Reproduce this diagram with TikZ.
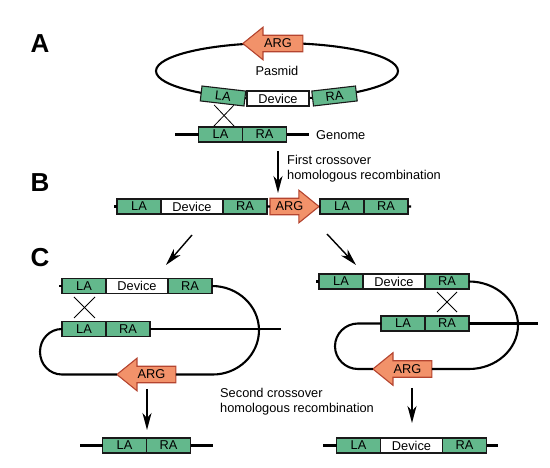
\documentclass[tikz,border=0pt]{standalone}
\usepackage{fontspec}
\setmainfont{Liberation Sans}
\usetikzlibrary{arrows.meta,positioning,shapes.arrows,shapes.geometric}

\definecolor{armgreen}{RGB}{99,184,140}
\definecolor{argfill}{RGB}{242,146,106}
\definecolor{argedge}{RGB}{180,68,47}

\tikzset{
  arm/.style={draw=black!90, fill=armgreen, line width=1.1pt, minimum width=44pt,
              minimum height=15pt, inner sep=0pt, outer sep=0pt,
              font=\fontsize{12.8}{14}\selectfont},
  device/.style={arm, fill=white, minimum width=62pt},
  arg/.style={single arrow, draw=argedge, fill=argfill, line width=1.1pt,
              minimum height=60pt, single arrow head extend=8pt,
              single arrow tip angle=78, single arrow head indent=0pt,
              inner sep=3.2pt, outer sep=0pt,
              font=\fontsize{12.8}{14}\selectfont},
  dna/.style={line width=2.1pt},
  cross/.style={line width=0.8pt},
  flow/.style={-{Stealth[length=17pt,width=9pt,inset=5pt]}, line width=1.4pt},
  panel/.style={font=\fontsize{26}{26}\selectfont\bfseries, inner sep=0pt},
  note/.style={font=\fontsize{12.8}{15}\selectfont, align=left, inner sep=0pt}
}

\begin{document}
\begin{tikzpicture}[x=1pt, y=-1pt]
\useasboundingbox (0,0) rectangle (550,468);

% A: plasmid and genome
\node[panel] (lblA) at (40,44) {A};
\node[draw, ellipse, dna, minimum width=242pt, minimum height=56pt, inner sep=0pt,
      font=\fontsize{12.8}{15}\selectfont] (plasmid) at (277,71) {Pasmid};
\node[arg, shape border rotate=180] (argA) at (278,43.5) {ARG};
\node[arm, rotate=-6.6] (pLA) at (223,96) {LA};
\node[device] (pDev) at (278,98.5) {Device};
\node[arm, rotate=6.6] (pRA) at (334.5,96) {RA};

\node[arm] (gLA) at (220.5,134.5) {LA};
\node[arm, right=0pt of gLA] (gRA) {RA};
\coordinate (gL) at (175,134.5);
\coordinate (gR) at (309,134.5);
\draw[dna] (gL) -- (gLA.west);
\draw[dna] (gRA.east) -- (gR);
\node[note, anchor=west] (genome) at (316,135) {Genome};

\draw[cross] ([shift={(-8,1.5)}]pLA.south) -- ([shift={(13.5,-1)}]gLA.north);
\draw[cross] ([shift={(12,1.5)}]pLA.south) -- ([shift={(-6.5,-1)}]gLA.north);

\coordinate (s1) at (278,151);
\coordinate (e1) at (278,193);
\draw[flow] (s1) -- (e1);
\node[note, anchor=west] (t1) at (287,168.7) {First crossover\\homologous recombination};

% B: single crossover product
\node[panel] (lblB) at (40,183) {B};
\node[arm] (bLA1) at (139,206.5) {LA};
\node[device, right=0pt of bLA1] (bDev) {Device};
\node[arm, right=0pt of bDev] (bRA1) {RA};
\node[arg, minimum height=49pt, right=3pt of bRA1] (argB) {ARG};
\node[arm, right=1pt of argB] (bLA2) {LA};
\node[arm, right=0pt of bLA2] (bRA2) {RA};
\coordinate (bL) at (114,206.5);
\coordinate (bR) at (411,206.5);
\draw[dna] (bL) -- (bLA1.west);
\draw[dna] (bRA1.east) -- (argB.tail);
\draw[dna] (argB.tip) -- (bLA2.west);
\draw[dna] (bRA2.east) -- (bR);

\coordinate (s2) at (192,235);
\coordinate (e2) at (166,265);
\coordinate (s3) at (327,234);
\coordinate (e3) at (356,265);
\draw[flow] (s2) -- (e2);
\draw[flow] (s3) -- (e3);

% C: second crossover, left
\node[panel] (lblC) at (40,258) {C};
\node[arm] (lLA1) at (84,286) {LA};
\node[device, right=0pt of lLA1] (lDev) {Device};
\node[arm, right=0pt of lDev] (lRA1) {RA};
\node[arm] (lLA2) at (84,329) {LA};
\node[arm, right=0pt of lLA2] (lRA2) {RA};
\node[arg, minimum height=59pt, shape border rotate=180] (lARG) at (151.5,374.5) {ARG};
\coordinate (lL) at (59,286);
\coordinate (lR) at (281,329);
\draw[dna] (lL) -- (lLA1.west);
\draw[dna] (lRA2.east) -- (lR);
\draw[dna] (lRA1.east) .. controls (238,286) and (259,306) .. (259,330.25)
  .. controls (259,354.7) and (238,374.5) .. (213,374.5) -- (lARG.tail);
\draw[dna] (lLA2.west) .. controls (49.5,329) and (40,339.2) .. (40,351.75)
  .. controls (40,364.3) and (49.5,374.5) .. (62,374.5) -- (lARG.tip);
\draw[cross] ([shift={(-10,3.5)}]lLA1.south) -- ([shift={(11,-3.5)}]lLA2.north);
\draw[cross] ([shift={(11,3.5)}]lLA1.south) -- ([shift={(-10,-3.5)}]lLA2.north);

\coordinate (s4) at (147,389);
\coordinate (e4) at (147,430);
\draw[flow] (s4) -- (e4);
\node[arm] (lgLA) at (124.5,445.5) {LA};
\node[arm, right=0pt of lgLA] (lgRA) {RA};
\coordinate (lgL) at (80,445.5);
\coordinate (lgR) at (213,445.5);
\draw[dna] (lgL) -- (lgLA.west);
\draw[dna] (lgRA.east) -- (lgR);

\node[note, anchor=west] (t2) at (220,401.7) {Second crossover\\homologous recombination};

% C: second crossover, right
\node[arm] (rLA1) at (341,281.5) {LA};
\node[device, right=0pt of rLA1] (rDev) {Device};
\node[arm, right=0pt of rDev] (rRA1) {RA};
\node[arm] (rLA2) at (403,323.5) {LA};
\node[arm, right=0pt of rLA2] (rRA2) {RA};
\node[arg, minimum height=59pt, shape border rotate=180] (rARG) at (407.5,369) {ARG};
\coordinate (rL) at (316,281.5);
\coordinate (rR) at (538,323.5);
\draw[dna] (rL) -- (rLA1.west);
\draw[dna] (rRA2.east) -- (rR);
\draw[dna] (rRA1.east) .. controls (496,281.5) and (518,301.1) .. (518,325.25)
  .. controls (518,349.4) and (496,369) .. (469,369) -- (rARG.tail);
\draw[dna] (rLA2.west) -- (358,323.5) .. controls (345.4,323.5) and (335,333.7) .. (335,346.25)
  .. controls (335,358.8) and (345.4,369) .. (358,369) -- (rARG.tip);
\draw[cross] ([shift={(-10,3)}]rRA1.south) -- ([shift={(10,-4)}]rRA2.north);
\draw[cross] ([shift={(10,3)}]rRA1.south) -- ([shift={(-10,-4)}]rRA2.north);

\coordinate (s5) at (412,388);
\coordinate (e5) at (412,423);
\draw[flow] (s5) -- (e5);
\node[arm] (rgLA) at (358.5,445.5) {LA};
\node[device, right=0pt of rgLA] (rgDev) {Device};
\node[arm, right=0pt of rgDev] (rgRA) {RA};
\coordinate (rgL) at (323,445.5);
\coordinate (rgR) at (498,445.5);
\draw[dna] (rgL) -- (rgLA.west);
\draw[dna] (rgRA.east) -- (rgR);
\end{tikzpicture}
\end{document}
